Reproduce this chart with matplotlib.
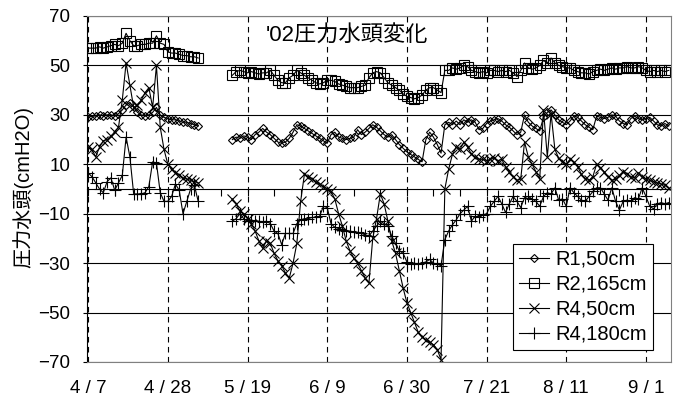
import numpy as np
import pandas as pd
import matplotlib
matplotlib.use('Agg')
import matplotlib.pyplot as plt

plt.rcParams['font.family'] = ['Liberation Sans', 'Noto Sans CJK JP']

# daily readings 2002/4/7 - 9/7, no readings 5/7 - 5/14
dates = pd.date_range('2002-04-07', '2002-09-07', freq='D')
gap = [np.nan] * 8

r1_50_a = [29, 29.5, 29.5, 30, 29.5, 30, 30, 29.5, 30.5, 32,
           34, 35, 33, 31, 30, 29.5, 30, 31, 33, 30,
           29, 28.5, 28, 28, 27.5, 27, 27, 26.5, 26, 25.5]
r1_50_b = [20, 21, 20.5, 21.5, 21, 20, 22, 23, 24.5, 23,
           22, 20.5, 19, 18.5, 19, 20.5, 23, 26, 25.5, 24.5,
           23.5, 22.5, 21.5, 20.5, 19.5, 18.5, 22, 23, 21, 20.5,
           20, 20.5, 21, 24, 22, 23, 24.5, 26, 25, 23.5,
           22, 21, 22, 20, 18, 16.5, 15, 14, 13, 12,
           11, 20, 23, 21, 18, 14.5, 26, 27, 26, 27.5,
           26, 28, 27, 28, 27, 24, 24.5, 26.5, 27.5, 28,
           28.5, 27.5, 26, 25, 23.5, 22, 23, 30, 27, 25.5,
           24.5, 23.5, 29, 31, 32, 30, 28, 27, 26, 27.5,
           29.5, 29, 27.5, 26, 25, 24, 29.5, 29, 28.5, 29,
           30, 29.5, 27.5, 26.5, 26, 28.5, 29.5, 28.5, 28, 28.5,
           29, 27.5, 26, 25.5, 26.5, 25.5]

r2_165_a = [57, 57, 57, 57.5, 57, 57.5, 58, 58.5, 58, 59,
            63, 60, 58, 58, 58.5, 58.5, 59, 59, 62, 59,
            58.5, 55.5, 55, 55, 54.5, 54, 54, 53.5, 53.5, 53]
r2_165_b = [46, 47.5, 48, 47.5, 47, 47.5, 47, 46.5, 47, 47,
            48, 46, 44, 43, 43, 45, 46, 48, 47, 46,
            45, 44, 43, 42.5, 43, 44, 44, 43.5, 42.5, 42,
            41.5, 41, 41, 41, 41.5, 42, 45, 47, 47.5, 47,
            45, 43, 42, 41, 40, 38.5, 37.5, 37, 36.5, 37,
            38, 40, 41, 41, 40, 39, 48, 48, 49, 48.5,
            49, 50, 49.5, 48, 47.5, 47, 47.5, 47, 48, 48,
            47.5, 48, 47.5, 48, 47, 45.5, 48, 51, 49, 48.5,
            49, 50, 52, 51, 53, 51, 50, 49.5, 49, 49,
            48, 47.5, 47, 47, 46.5, 47.5, 48, 48.5, 48, 48.5,
            49, 48.5, 49, 49, 49.5, 49, 49, 49.5, 49, 48,
            47.5, 48, 47.5, 48, 47.5, 48]

r4_50_a = [17, 16, 13, 17, 19.5, 20, 21.5, 23, 25, 36,
           51, 42, 33, 34, 36, 39, 41, 33, 50, 25,
           16, 10, 8, 6.5, 5.5, 4.5, 4, 3.5, 3, 2.5]
r4_50_b = [-4, -6, -9, -10, -12, -14, -17, -21, -24, -21,
           -22, -26, -29, -31, -34, -36, -30, -22, -5, 6,
           5, 4, 3, 2, 1, 0, -1, -4, -10, -15,
           -21, -25, -28, -30, -33, -36, -38, -20, -12, -2,
           -6, -13, -21, -26, -33, -40, -46, -50, -54, -58,
           -60, -61, -62, -63, -65, -69, 0, 8, 14, 17,
           16, 19, 17, 14, 13, 12, 12, 11.5, 12, 12.5,
           11.5, 12, 9, 7, 5, 3.5, 4, 19, 13, 10,
           7, 4, 32, 13, 30.5, 16, 12.5, 11, 10, 12,
           11, 9, 6, 4, 3.5, 5, 10, 8.5, 7, 5,
           3.5, 4, 5.5, 7, 6, 5, 4.5, 6.5, 5, 4,
           3.5, 3, 2.5, 2, 1.5, 0.5]

r4_180_a = [6.5, 5, 2.5, 0, -1.5, 3, 4.5, -0.5, 2.5, 5.5,
            21, 13, -2, -2, -2, -1.5, 1, 11, 10.5, -1.5,
            -5, -5, -3, 2, -0.5, -10, -5, 0, 1.5, -5]
r4_180_b = [-13, -12, -10, -12, -13, -12.5, -13, -13, -13.5, -13,
            -14, -17, -18, -22.5, -18, -18, -18, -14, -12.5, -12,
            -12, -11.5, -11.5, -11, -7, -7.5, -14, -15.5, -16, -16.5,
            -17, -17, -17.5, -17.5, -18, -18.5, -19, -17, -15, -13,
            -14, -15, -19, -22, -25, -26, -29.5, -30.5, -30, -30.5,
            -30, -29.5, -28.5, -30, -30.5, -31, -20.5, -17, -14.5, -12.5,
            -10, -8.5, -7, -13, -11, -11.5, -10.5, -10, -7, -5,
            -3, -6, -9.5, -6, -3, -5, -7.5, -3.5, -3, -4,
            -5, -7, -3, -1.5, -2, 0.5, -4.5, -4, -7, 0.5,
            -1.5, -3, -4.5, -5, -3, -1, 0.5, 0.5, -2, -4.5,
            0.5, -5, -8.5, -5, -4.5, -5, -3.5, -4, 0.5, -3,
            -7, -8, -6, -5.5, -6, -5.5]

r1_50 = r1_50_a + gap + r1_50_b
r2_165 = r2_165_a + gap + r2_165_b
r4_50 = r4_50_a + gap + r4_50_b
r4_180 = r4_180_a + gap + r4_180_b

days = np.asarray((dates - dates[0]).days)
tick_labels = [f'{d.month} / {d.day}' for d in dates[::21]]

fig = plt.figure(figsize=(6.8, 4.01), dpi=100)
ax = fig.add_axes([87 / 680, 39 / 401, 584 / 680, 346 / 401])

style = dict(color='black', lw=0.8, mec='black', mew=0.8)
ax.plot(days, r1_50, marker='D', ms=4.5, mfc='none', label='R1,50cm', **style)
ax.plot(days, r2_165, marker='s', ms=6.5, mfc='none', label='R2,165cm', **style)
ax.plot(days, r4_50, marker='x', ms=7, label='R4,50cm', **style)
ax.plot(days, r4_180, marker='+', ms=8.5, label='R4,180cm', **style)

ax.set_xlim(-0.3, 153.6)
ax.set_ylim(-70, 70)
ax.set_yticks(np.arange(-70, 71, 20))
ax.set_xticks(days[::21], tick_labels)
ax.tick_params(axis='x', length=0, pad=13, labelsize=13.5)
ax.tick_params(axis='y', length=3, pad=9, labelsize=13.5)
ax.yaxis.grid(True, color='black', lw=0.8)
ax.xaxis.grid(True, color='black', lw=0.8, ls=(0, (5, 4)))
ax.set_axisbelow(True)
for s in ['top', 'right', 'bottom']:
    ax.spines[s].set_color('#808080')
ax.spines['left'].set_color('black')

# category axis crossing at 0 with weekly ticks
zero_axis = ax.secondary_xaxis(0.5)
zero_axis.set_xticks(days[::7])
zero_axis.tick_params(direction='in', length=5, width=0.8,
                      labeltop=False, labelbottom=False)
zero_axis.spines['top'].set_linewidth(0.8)

ax.text(0.445, 0.941, "'02圧力水頭変化", transform=ax.transAxes,
        ha='center', va='center', fontsize=16)
fig.text(23 / 680, 0.534, '圧力水頭(cmH2O)', rotation=90,
         ha='center', va='center', fontsize=14.5)

leg = ax.legend(loc='lower right', bbox_to_anchor=(0.969, 0.035),
                borderaxespad=0, fontsize=14.5, fancybox=False, framealpha=1,
                edgecolor='black', handlelength=1.5, handletextpad=0.3,
                labelspacing=0.3, borderpad=0.3)
leg.get_frame().set_linewidth(0.8)

fig.savefig('out.png', dpi=100)
